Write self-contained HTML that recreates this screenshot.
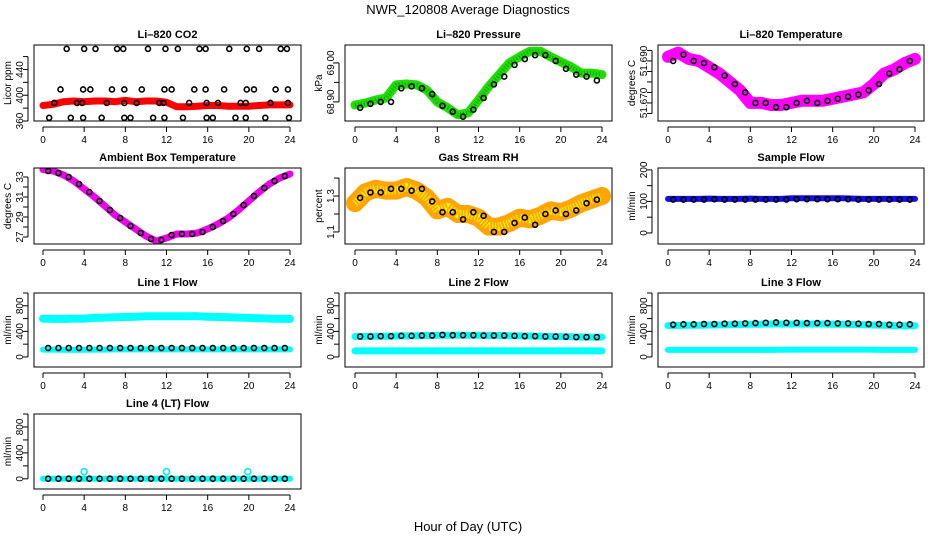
<!DOCTYPE html>
<html><head><meta charset="utf-8"><style>
body{margin:0;background:#fff;}
svg{display:block;font-family:"Liberation Sans",sans-serif;}
</style></head><body>
<svg id="c" width="936" height="540" viewBox="0 0 936 540">
<text x="468" y="14" text-anchor="middle" font-size="13">NWR_120808  Average Diagnostics</text>
<text x="468" y="531" text-anchor="middle" font-size="13">Hour of Day (UTC)</text>
</svg>
<script>
const hoursBand=[0,1,2,3,4,5,6,7,8,9,10,11,12,13,14,15,16,17,18,19,20,21,22,23,24];
const hoursPts=[0.5,1.5,2.5,3.5,4.5,5.5,6.5,7.5,8.5,9.5,10.5,11.5,12.5,13.5,14.5,15.5,16.5,17.5,18.5,19.5,20.5,21.5,22.5,23.5];
const xTicks=[0,4,8,12,16,20,24];
// CO2
const co2Band=[384,386,390,391,390,391,391,390,392,390,391,391,389,382,382,383,384,384,383,383,383,384,385,385,385];
const co2HiX=[2.3,4,5.1,7.2,7.8,10.2,11.9,13.1,15.2,15.8,18.1,19.8,21,23.1,23.7];
const co2HiY=[472,472,472,472,472,472,472,472,472,472,472,472,472,472,472];
const co2MidX=[1.7,3.9,4.6,6.7,7.9,9.6,11.8,12.5,14.7,15.8,17.6,19.8,20.5,22.6,23.8];
const co2MidY=[409,409,409,409,409,409,409,409,409,409,409,409,409,409,409];
const co2LowX=[1.1,3.3,3.8,6.2,7.9,9.1,11.3,11.7,14.2,15.9,17,19.2,19.7,22.1,23.8];
const co2LowY=[388,388,388,388,388,388,388,388,388,388,388,388,388,388,388];
const co2BotX=[0.6,2.7,3.9,5.7,7.9,8.5,10.7,11.8,13.6,15.9,16.5,18.7,19.7,21.6,23.9];
const co2BotY=[365,365,365,365,365,365,365,365,365,365,365,365,365,365,365];
// Pressure
const presBand=[68.892,68.897,68.905,68.91,68.944,68.946,68.944,68.93,68.90,68.885,68.867,68.872,68.905,68.94,68.97,69.00,69.016,69.03,69.03,69.016,69.003,68.99,68.974,68.974,68.97];
const presPts=[68.885,68.895,68.90,68.90,68.935,68.94,68.935,68.92,68.89,68.875,68.862,68.88,68.91,68.945,68.965,68.995,69.01,69.02,69.02,69.005,68.985,68.97,68.965,68.955];
// Li temp
const ltBand=[51.692,51.694,51.691,51.690,51.687,51.684,51.680,51.676,51.670,51.670,51.669,51.669,51.670,51.671,51.671,51.671,51.672,51.673,51.674,51.675,51.679,51.684,51.686,51.689,51.691];
const ltPts=[51.690,51.693,51.690,51.689,51.687,51.683,51.679,51.675,51.670,51.670,51.668,51.668,51.670,51.671,51.670,51.671,51.672,51.673,51.674,51.676,51.679,51.684,51.686,51.690];
// Ambient
const ambBand=[33.75,33.6,33.2,32.6,31.8,31.0,30.1,29.2,28.5,27.8,27.1,26.6,26.9,27.3,27.3,27.4,27.8,28.3,28.9,29.7,30.6,31.5,32.3,32.9,33.3];
const ambPts=[33.6,33.4,33.0,32.3,31.5,30.6,29.7,28.9,28.1,27.4,26.8,26.7,27.2,27.3,27.3,27.5,28.0,28.6,29.3,30.2,31.1,31.9,32.6,33.1];
// RH
const rhBand=[1.26,1.32,1.34,1.33,1.33,1.35,1.33,1.29,1.22,1.24,1.20,1.20,1.18,1.13,1.13,1.15,1.18,1.17,1.19,1.22,1.21,1.23,1.26,1.28,1.30];
const rhPts=[1.29,1.32,1.32,1.34,1.34,1.33,1.34,1.27,1.21,1.21,1.17,1.21,1.19,1.10,1.10,1.15,1.18,1.14,1.20,1.22,1.20,1.22,1.26,1.28];
// Sample flow
const sfBand=[108,108,108,108,109,108,108,108,109,108,108,108,110,110,110,110,110,110,109,108,108,108,108,108,108];
const sfPts=[106,106,106,106,107,106,106,106,106,106,106,106,107,107,107,107,107,107,106,106,106,106,106,106];
// Line 1
const l1Hi=[600,595,595,600,600,610,615,620,625,630,635,635,635,635,635,635,630,625,620,615,610,605,600,595,595];
const l1Lo=[115,115,112,110,112,115,115,118,118,118,118,118,118,118,118,118,118,118,118,118,118,118,118,118,118];
const l1Pts=[140,140,140,140,140,140,140,140,140,140,140,140,140,140,140,140,140,140,140,140,140,140,140,140];
// Line 2
const l2Hi=[320,322,325,325,328,330,332,335,338,340,340,340,338,336,335,333,330,328,325,320,318,315,312,310,310];
const l2Lo=[95,95,95,95,95,95,95,95,95,95,95,95,95,95,95,95,95,95,95,95,95,95,95,95,95];
const l2Pts=[320,320,325,325,330,330,335,335,345,340,340,340,335,335,335,330,325,325,320,320,315,310,310,310];
// Line 3
const l3Hi=[490,492,495,497,500,502,505,508,510,512,515,515,515,515,515,515,512,510,508,505,500,495,490,488,488];
const l3Lo=[110,110,110,110,110,110,110,110,110,110,110,112,115,115,115,115,115,115,115,115,112,110,110,110,110];
const l3Pts=[505,510,510,515,515,520,520,525,530,535,540,535,535,530,530,530,525,525,520,515,515,505,505,510];
// Line 4
const l4Band=[0,0,0,0,0,0,0,0,0,0,0,0,0,0,0,0,0,0,0,0,0,0,0,0,0];
const l4Pts=[2,2,2,2,2,2,2,2,2,2,2,2,2,2,2,2,2,2,2,2,2,2,2,2];
const l4OutX=[4,12,19.9];
const l4OutY=[110,110,110];

const NS='http://www.w3.org/2000/svg';
const svg=document.getElementById('c');
function mk(tag,attrs,parent){const e=document.createElementNS(NS,tag);for(const k in attrs)e.setAttribute(k,attrs[k]);(parent||svg).appendChild(e);return e;}

const cols=[{l:34,r:301,x0:43,x24:290},{l:345,r:612,x0:355,x24:602},{l:658,r:924,x0:668,x24:915}];
const rows=[{t:45,b:121},{t:168,b:244},{t:293,b:367},{t:414,b:489}];

function panel(cfg){
  const c=cols[cfg.col], r=rows[cfg.row];
  const g=mk('g',{});
  
  
  const xs=h=>c.x0+(c.x24-c.x0)*h/24;
  const ys=v=>r.b-(v-cfg.ymin)/(cfg.ymax-cfg.ymin)*(r.b-r.t);
  const t=mk('text',{x:(c.l+c.r)/2,y:r.t-7,'text-anchor':'middle','font-size':11,'font-weight':'bold'},g);
  t.textContent=cfg.title;
  
  
  const tx=c.l-23, ty=(r.t+r.b)/2;
  const yl=mk('text',{x:tx,y:ty,'text-anchor':'middle','font-size':10,transform:`rotate(-90 ${tx} ${ty})`},g);
  yl.textContent=cfg.ylab;
  
  
  const clip='clip'+cfg.name;
  const cp=mk('clipPath',{id:clip},g);mk('rect',{x:c.l,y:r.t,width:c.r-c.l,height:r.b-r.t},cp);
  const sg=mk('g',{'clip-path':`url(#${clip})`},g);
  cfg.series.forEach(s=>{
    if(s.type==='band'){
      const d=s.x.map((h,i)=>(i?'L':'M')+xs(h).toFixed(1)+','+ys(s.y[i]).toFixed(1)).join('');
      const p=mk('path',{d:d,fill:'none',stroke:s.color,'stroke-width':s.w,'stroke-linejoin':'round','stroke-linecap':'round'},sg);
      
      
      if(s.inner){mk('path',{d:d,fill:'none',stroke:s.inner,'stroke-width':s.w*0.45,'stroke-dasharray':'1 2','stroke-linejoin':'round'},sg);}
    } else {
      s.x.forEach((h,i)=>{
        const ci=mk('circle',{cx:xs(h),cy:ys(s.y[i]),r:s.r||2.5,fill:'none',stroke:s.color,'stroke-width':1.6},sg);
        
        
      });
    }
  });
  mk('rect',{x:c.l,y:r.t,width:c.r-c.l,height:r.b-r.t,fill:'none',stroke:'#000','stroke-width':1},g);
  mk('line',{x1:xs(0),x2:xs(24),y1:r.b+6,y2:r.b+6,stroke:'#000'},g);
  xTicks.forEach(v=>{
    mk('line',{x1:xs(v),x2:xs(v),y1:r.b+6,y2:r.b+11,stroke:'#000'},g);
    const tl=mk('text',{x:xs(v),y:r.b+22,'text-anchor':'middle','font-size':10},g);
    tl.textContent=v;
    
    
  });
  const ax=c.l-6;
  mk('line',{x1:ax,x2:ax,y1:ys(cfg.yticks[0]),y2:ys(cfg.yticks[cfg.yticks.length-1]),stroke:'#000'},g);
  cfg.yticks.forEach(v=>mk('line',{x1:ax-5,x2:ax,y1:ys(v),y2:ys(v),stroke:'#000'},g));
  cfg.ylabels.forEach(v=>{
    const lx=c.l-11,ly=ys(v);
    const tl=mk('text',{x:lx,y:ly,'text-anchor':'middle','font-size':10,transform:`rotate(-90 ${lx} ${ly})`},g);
    tl.textContent=cfg.fmt?cfg.fmt(v):v;
    
    
  });
}
const flowTicks=[0,200,400,600,800,1000], flowLabels=[0,400,800];
panel({name:'co2-panel',col:0,row:0,title:'Li–820 CO2',ylab:'Licor ppm',ymin:360,ymax:478,yticks:[360,380,400,420,440,460],ylabels:[360,400,440],
  series:[{type:'band',name:'co2-band',x:hoursBand,y:co2Band,color:'#f00',w:7},
  {type:'pts',name:'co2-point',x:co2HiX,y:co2HiY,color:'#000'},{type:'pts',name:'co2-point',x:co2MidX,y:co2MidY,color:'#000'},
  {type:'pts',name:'co2-point',x:co2LowX,y:co2LowY,color:'#000'},{type:'pts',name:'co2-point',x:co2BotX,y:co2BotY,color:'#000'}]});
panel({name:'pressure-panel',col:1,row:0,title:'Li–820 Pressure',ylab:'kPa',ymin:68.851,ymax:69.046,yticks:[68.90,68.95,69.00],ylabels:[68.90,69.00],fmt:v=>v.toFixed(2),
  series:[{type:'band',name:'pressure-band',x:hoursBand,y:presBand,color:'#22dd00',w:9,inner:'#0a0'},{type:'pts',name:'pressure-point',x:hoursPts,y:presPts,color:'#000'}]});
panel({name:'li820-temp-panel',col:2,row:0,title:'Li–820 Temperature',ylab:'degrees C',ymin:51.6614,ymax:51.6976,yticks:[51.665,51.670,51.675,51.680,51.685,51.690,51.695],ylabels:[51.670,51.690],fmt:v=>v.toFixed(3),
  series:[{type:'band',name:'li820-temp-band',x:hoursBand,y:ltBand,color:'#ff00ff',w:12},{type:'pts',name:'li820-temp-point',x:hoursPts,y:ltPts,color:'#000'}]});
panel({name:'ambient-temp-panel',col:0,row:1,title:'Ambient Box Temperature',ylab:'degrees C',ymin:26.3,ymax:33.9,yticks:[27,28,29,30,31,32,33],ylabels:[27,29,31,33],
  series:[{type:'band',name:'ambient-band',x:hoursBand,y:ambBand,color:'#ee00ee',w:7},{type:'pts',name:'ambient-point',x:hoursPts,y:ambPts,color:'#000'}]});
panel({name:'rh-panel',col:1,row:1,title:'Gas Stream RH',ylab:'percent',ymin:1.033,ymax:1.456,yticks:[1.1,1.2,1.3,1.4],ylabels:[1.1,1.3],
  series:[{type:'band',name:'rh-band',x:hoursBand,y:rhBand,color:'#ffa500',w:18,inner:'#ff0'},{type:'pts',name:'rh-point',x:hoursPts,y:rhPts,color:'#000'}]});
panel({name:'sample-flow-panel',col:2,row:1,title:'Sample Flow',ylab:'ml/min',ymin:-35,ymax:206,yticks:[0,50,100,150,200],ylabels:[0,100,200],
  series:[{type:'band',name:'sample-flow-band',x:hoursBand,y:sfBand,color:'#1010ee',w:6},{type:'pts',name:'sample-flow-point',x:hoursPts,y:sfPts,color:'#000'}]});
panel({name:'line1-flow-panel',col:0,row:2,title:'Line 1 Flow',ylab:'ml/min',ymin:-157,ymax:1000,yticks:flowTicks,ylabels:flowLabels,
  series:[{type:'band',name:'line1-high-band',x:hoursBand,y:l1Hi,color:'#00ffff',w:8},{type:'band',name:'line1-low-band',x:hoursBand,y:l1Lo,color:'#00ffff',w:6},{type:'pts',name:'line1-point',x:hoursPts,y:l1Pts,color:'#000'}]});
panel({name:'line2-flow-panel',col:1,row:2,title:'Line 2 Flow',ylab:'ml/min',ymin:-157,ymax:1000,yticks:flowTicks,ylabels:flowLabels,
  series:[{type:'band',name:'line2-high-band',x:hoursBand,y:l2Hi,color:'#00ffff',w:7},{type:'band',name:'line2-low-band',x:hoursBand,y:l2Lo,color:'#00ffff',w:7},{type:'pts',name:'line2-point',x:hoursPts,y:l2Pts,color:'#000'}]});
panel({name:'line3-flow-panel',col:2,row:2,title:'Line 3 Flow',ylab:'ml/min',ymin:-157,ymax:1000,yticks:flowTicks,ylabels:flowLabels,
  series:[{type:'band',name:'line3-high-band',x:hoursBand,y:l3Hi,color:'#00ffff',w:7},{type:'band',name:'line3-low-band',x:hoursBand,y:l3Lo,color:'#00ffff',w:6},{type:'pts',name:'line3-point',x:hoursPts,y:l3Pts,color:'#000'}]});
panel({name:'line4-flow-panel',col:0,row:3,title:'Line 4 (LT) Flow',ylab:'ml/min',ymin:-157,ymax:1000,yticks:flowTicks,ylabels:flowLabels,
  series:[{type:'band',name:'line4-band',x:hoursBand,y:l4Band,color:'#00ffff',w:6},{type:'pts',name:'line4-point',x:hoursPts,y:l4Pts,color:'#000'},{type:'pts',name:'line4-outlier',x:l4OutX,y:l4OutY,color:'#00eeee',r:3}]});
</script>
</body></html>
